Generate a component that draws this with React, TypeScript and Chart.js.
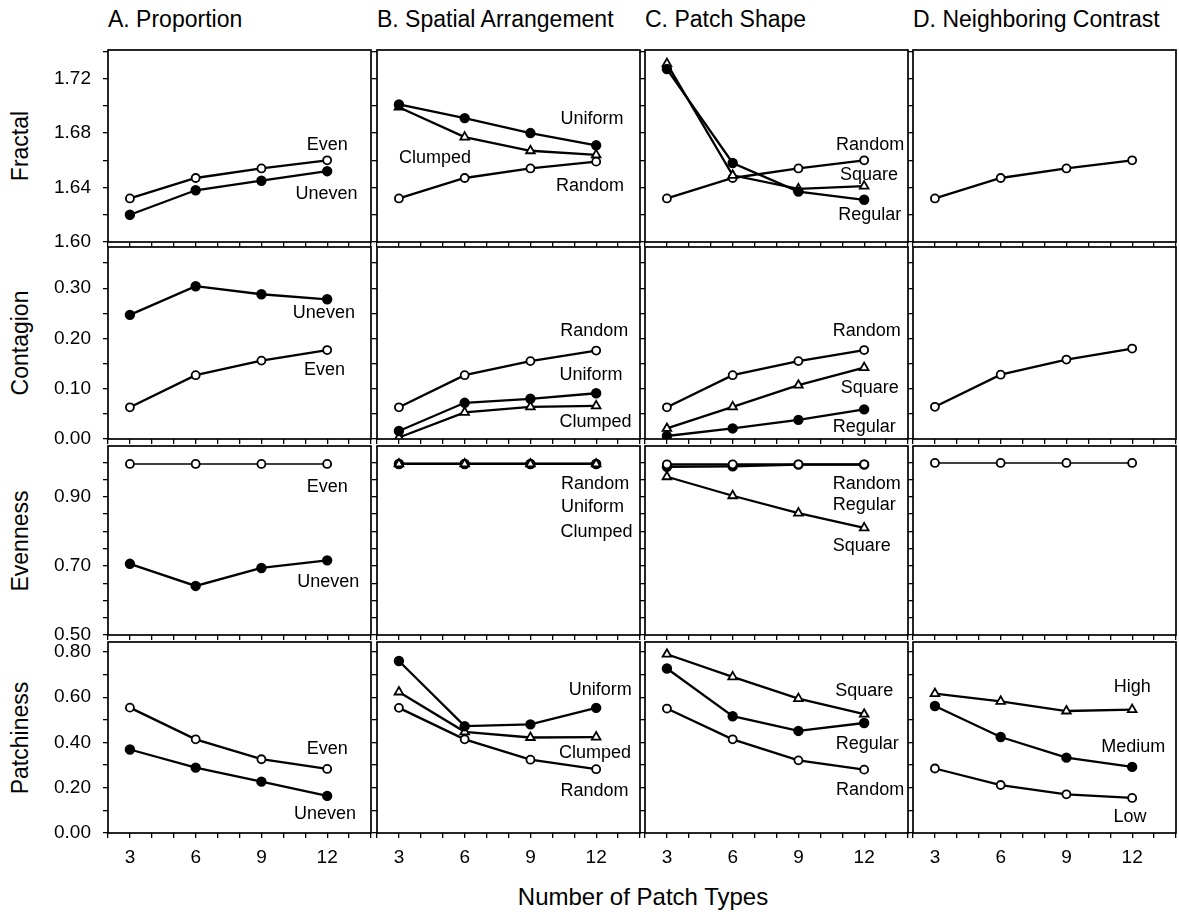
import React, { useEffect, useRef } from 'react';
import { Chart, registerables } from 'chart.js';

Chart.register(...registerables);

const FONT = '"Liberation Sans", Arial, Helvetica, sans-serif';

// ---------- categories / ticks ----------
const patchTypes = [3, 6, 9, 12];
const xTickValues = [2, 3, 4, 5, 6, 7, 8, 9, 10, 11, 12, 13, 14];
const xTickLabels = [3, 6, 9, 12];

const columnTitles = ['A. Proportion', 'B. Spatial Arrangement', 'C. Patch Shape', 'D. Neighboring Contrast'];
const rowTitles = ['Fractal', 'Contagion', 'Evenness', 'Patchiness'];
const xAxisTitle = 'Number of Patch Types';

const fractalTicks = [1.6, 1.62, 1.64, 1.66, 1.68, 1.7, 1.72, 1.74];
const fractalTickLabels = [1.6, 1.64, 1.68, 1.72];
const contagionTicks = [0, 0.05, 0.1, 0.15, 0.2, 0.25, 0.3, 0.35];
const contagionTickLabels = [0, 0.1, 0.2, 0.3];
const evennessTicks = [0.5, 0.55, 0.6, 0.65, 0.7, 0.75, 0.8, 0.85, 0.9, 0.95, 1.0];
const evennessTickLabels = [0.5, 0.7, 0.9];
const patchinessTicks = [0, 0.1, 0.2, 0.3, 0.4, 0.5, 0.6, 0.7, 0.8];
const patchinessTickLabels = [0, 0.2, 0.4, 0.6, 0.8];

// ---------- series values ----------
// Fractal
const fracPropEven = [1.632, 1.647, 1.654, 1.66];
const fracPropUneven = [1.62, 1.638, 1.645, 1.652];
const fracSpatUniform = [1.701, 1.691, 1.68, 1.671];
const fracSpatClumped = [1.699, 1.677, 1.667, 1.664];
const fracSpatRandom = [1.632, 1.647, 1.654, 1.659];
const fracShapeRegular = [1.727, 1.658, 1.637, 1.631];
const fracShapeSquare = [1.731, 1.649, 1.639, 1.641];
const fracShapeRandom = [1.632, 1.647, 1.654, 1.66];
const fracContrastRandom = [1.632, 1.647, 1.654, 1.66];
// Contagion
const contPropUneven = [0.247, 0.304, 0.288, 0.278];
const contPropEven = [0.063, 0.127, 0.156, 0.177];
const contSpatRandom = [0.063, 0.127, 0.155, 0.176];
const contSpatUniform = [0.016, 0.072, 0.08, 0.091];
const contSpatClumped = [0.003, 0.053, 0.064, 0.066];
const contShapeRandom = [0.063, 0.127, 0.155, 0.177];
const contShapeSquare = [0.021, 0.064, 0.107, 0.142];
const contShapeRegular = [0.006, 0.021, 0.038, 0.059];
const contContrastRandom = [0.064, 0.128, 0.158, 0.18];
// Evenness
const evenPropEven = [0.995, 0.995, 0.995, 0.995];
const evenPropUneven = [0.706, 0.642, 0.694, 0.716];
const evenSpatRandom = [0.995, 0.995, 0.995, 0.995];
const evenSpatUniform = [0.995, 0.995, 0.995, 0.995];
const evenSpatClumped = [0.995, 0.995, 0.995, 0.995];
const evenShapeRandom = [0.994, 0.994, 0.994, 0.994];
const evenShapeRegular = [0.987, 0.988, 0.993, 0.993];
const evenShapeSquare = [0.958, 0.903, 0.853, 0.81];
const evenContrastRandom = [0.998, 0.998, 0.998, 0.998];
// Patchiness
const patchPropEven = [0.554, 0.414, 0.326, 0.283];
const patchPropUneven = [0.369, 0.289, 0.227, 0.164];
const patchSpatUniform = [0.76, 0.472, 0.48, 0.553];
const patchSpatClumped = [0.623, 0.447, 0.422, 0.424];
const patchSpatRandom = [0.553, 0.414, 0.324, 0.282];
const patchShapeSquare = [0.79, 0.69, 0.594, 0.525];
const patchShapeRegular = [0.727, 0.516, 0.451, 0.486];
const patchShapeRandom = [0.55, 0.414, 0.321, 0.28];
const patchContrastHigh = [0.616, 0.582, 0.539, 0.545];
const patchContrastMedium = [0.561, 0.424, 0.333, 0.292];
const patchContrastLow = [0.285, 0.212, 0.171, 0.155];

// ---------- in-plot series labels (data coordinates) ----------
type Align = 'left' | 'center';
interface LabelDef { text: string; x: number; y: number; align: Align }

const lblFracProp: LabelDef[] = [
  { text: 'Even', x: 12, y: 1.671, align: 'center' },
  { text: 'Uneven', x: 11.97, y: 1.635, align: 'center' },
];
const lblFracSpat: LabelDef[] = [
  { text: 'Uniform', x: 10.37, y: 1.69, align: 'left' },
  { text: 'Clumped', x: 3.0, y: 1.662, align: 'left' },
  { text: 'Random', x: 10.17, y: 1.641, align: 'left' },
];
const lblFracShape: LabelDef[] = [
  { text: 'Random', x: 10.72, y: 1.671, align: 'left' },
  { text: 'Square', x: 10.9, y: 1.649, align: 'left' },
  { text: 'Regular', x: 10.82, y: 1.62, align: 'left' },
];
const lblContProp: LabelDef[] = [
  { text: 'Uneven', x: 11.85, y: 0.25, align: 'center' },
  { text: 'Even', x: 11.88, y: 0.138, align: 'center' },
];
const lblContSpat: LabelDef[] = [
  { text: 'Random', x: 10.36, y: 0.214, align: 'left' },
  { text: 'Uniform', x: 10.33, y: 0.128, align: 'left' },
  { text: 'Clumped', x: 10.33, y: 0.034, align: 'left' },
];
const lblContShape: LabelDef[] = [
  { text: 'Random', x: 10.57, y: 0.214, align: 'left' },
  { text: 'Square', x: 10.93, y: 0.1015, align: 'left' },
  { text: 'Regular', x: 10.57, y: 0.024, align: 'left' },
];
const lblEvenProp: LabelDef[] = [
  { text: 'Even', x: 12, y: 0.927, align: 'center' },
  { text: 'Uneven', x: 12.05, y: 0.653, align: 'center' },
];
const lblEvenSpat: LabelDef[] = [
  { text: 'Random', x: 10.4, y: 0.938, align: 'left' },
  { text: 'Uniform', x: 10.4, y: 0.869, align: 'left' },
  { text: 'Clumped', x: 10.37, y: 0.797, align: 'left' },
];
const lblEvenShape: LabelDef[] = [
  { text: 'Random', x: 10.57, y: 0.938, align: 'left' },
  { text: 'Regular', x: 10.57, y: 0.876, align: 'left' },
  { text: 'Square', x: 10.57, y: 0.758, align: 'left' },
];
const lblPatchProp: LabelDef[] = [
  { text: 'Even', x: 12, y: 0.373, align: 'center' },
  { text: 'Uneven', x: 11.9, y: 0.086, align: 'center' },
];
const lblPatchSpat: LabelDef[] = [
  { text: 'Uniform', x: 10.75, y: 0.631, align: 'left' },
  { text: 'Clumped', x: 10.3, y: 0.355, align: 'left' },
  { text: 'Random', x: 10.37, y: 0.186, align: 'left' },
];
const lblPatchShape: LabelDef[] = [
  { text: 'Square', x: 10.68, y: 0.628, align: 'left' },
  { text: 'Regular', x: 10.7, y: 0.395, align: 'left' },
  { text: 'Random', x: 10.72, y: 0.192, align: 'left' },
];
const lblPatchContrast: LabelDef[] = [
  { text: 'High', x: 12, y: 0.643, align: 'center' },
  { text: 'Medium', x: 12.05, y: 0.38, align: 'center' },
  { text: 'Low', x: 11.9, y: 0.071, align: 'center' },
];

// ---------- structure ----------
type Mark = 'open' | 'filled' | 'triangle';
interface SeriesDef { name: string; values: number[]; mark: Mark; thin?: boolean }
interface RowDef { min: number; max: number; ticks: number[]; labels: number[] }
interface PanelDef { row: number; col: number; series: SeriesDef[]; labels: LabelDef[] }

const rowScales: RowDef[] = [
  { min: 1.6, max: 1.741, ticks: fractalTicks, labels: fractalTickLabels },
  { min: 0, max: 0.382, ticks: contagionTicks, labels: contagionTickLabels },
  { min: 0.5, max: 1.047, ticks: evennessTicks, labels: evennessTickLabels },
  { min: 0, max: 0.844, ticks: patchinessTicks, labels: patchinessTickLabels },
];

const panels: PanelDef[] = [
  { row: 0, col: 0, labels: lblFracProp, series: [
    { name: 'Even', values: fracPropEven, mark: 'open' },
    { name: 'Uneven', values: fracPropUneven, mark: 'filled' }] },
  { row: 0, col: 1, labels: lblFracSpat, series: [
    { name: 'Uniform', values: fracSpatUniform, mark: 'filled' },
    { name: 'Clumped', values: fracSpatClumped, mark: 'triangle' },
    { name: 'Random', values: fracSpatRandom, mark: 'open' }] },
  { row: 0, col: 2, labels: lblFracShape, series: [
    { name: 'Regular', values: fracShapeRegular, mark: 'filled' },
    { name: 'Square', values: fracShapeSquare, mark: 'triangle' },
    { name: 'Random', values: fracShapeRandom, mark: 'open' }] },
  { row: 0, col: 3, labels: [], series: [
    { name: 'Random', values: fracContrastRandom, mark: 'open' }] },

  { row: 1, col: 0, labels: lblContProp, series: [
    { name: 'Uneven', values: contPropUneven, mark: 'filled' },
    { name: 'Even', values: contPropEven, mark: 'open' }] },
  { row: 1, col: 1, labels: lblContSpat, series: [
    { name: 'Random', values: contSpatRandom, mark: 'open' },
    { name: 'Uniform', values: contSpatUniform, mark: 'filled' },
    { name: 'Clumped', values: contSpatClumped, mark: 'triangle' }] },
  { row: 1, col: 2, labels: lblContShape, series: [
    { name: 'Random', values: contShapeRandom, mark: 'open' },
    { name: 'Square', values: contShapeSquare, mark: 'triangle' },
    { name: 'Regular', values: contShapeRegular, mark: 'filled' }] },
  { row: 1, col: 3, labels: [], series: [
    { name: 'Random', values: contContrastRandom, mark: 'open' }] },

  { row: 2, col: 0, labels: lblEvenProp, series: [
    { name: 'Even', values: evenPropEven, mark: 'open', thin: true },
    { name: 'Uneven', values: evenPropUneven, mark: 'filled' }] },
  { row: 2, col: 1, labels: lblEvenSpat, series: [
    { name: 'Clumped', values: evenSpatClumped, mark: 'triangle' },
    { name: 'Random', values: evenSpatRandom, mark: 'open' },
    { name: 'Uniform', values: evenSpatUniform, mark: 'filled' }] },
  { row: 2, col: 2, labels: lblEvenShape, series: [
    { name: 'Random', values: evenShapeRandom, mark: 'open' },
    { name: 'Regular', values: evenShapeRegular, mark: 'filled' },
    { name: 'Square', values: evenShapeSquare, mark: 'triangle' }] },
  { row: 2, col: 3, labels: [], series: [
    { name: 'Random', values: evenContrastRandom, mark: 'open', thin: true }] },

  { row: 3, col: 0, labels: lblPatchProp, series: [
    { name: 'Even', values: patchPropEven, mark: 'open' },
    { name: 'Uneven', values: patchPropUneven, mark: 'filled' }] },
  { row: 3, col: 1, labels: lblPatchSpat, series: [
    { name: 'Uniform', values: patchSpatUniform, mark: 'filled' },
    { name: 'Clumped', values: patchSpatClumped, mark: 'triangle' },
    { name: 'Random', values: patchSpatRandom, mark: 'open' }] },
  { row: 3, col: 2, labels: lblPatchShape, series: [
    { name: 'Square', values: patchShapeSquare, mark: 'triangle' },
    { name: 'Regular', values: patchShapeRegular, mark: 'filled' },
    { name: 'Random', values: patchShapeRandom, mark: 'open' }] },
  { row: 3, col: 3, labels: lblPatchContrast, series: [
    { name: 'High', values: patchContrastHigh, mark: 'triangle' },
    { name: 'Medium', values: patchContrastMedium, mark: 'filled' },
    { name: 'Low', values: patchContrastLow, mark: 'open' }] },
];

// ---------- layout (page pixels of each plot box) ----------
const colBoxes = [
  { left: 108, right: 371 },
  { left: 377, right: 640 },
  { left: 645, right: 908 },
  { left: 913, right: 1176 },
];
const rowBoxes = [
  { top: 50, bottom: 242 },
  { top: 247, bottom: 439 },
  { top: 446, bottom: 635 },
  { top: 642, bottom: 833 },
];
const PAD_TOP = 4;
const PAD_RIGHT = 3;

const decorPlugin = {
  id: 'panelDecor',
  afterDatasetsDraw(chart: any, _args: any, opts: any) {
    const { ctx, chartArea: a, scales } = chart;
    ctx.save();
    ctx.strokeStyle = '#000';
    ctx.lineWidth = 1.7;
    ctx.strokeRect(a.left, a.top, a.right - a.left, a.bottom - a.top);
    ctx.fillStyle = '#000';
    ctx.font = `18px ${FONT}`;
    ctx.textBaseline = 'middle';
    for (const l of (opts.labels || []) as LabelDef[]) {
      ctx.textAlign = l.align;
      ctx.fillText(l.text, scales.x.getPixelForValue(l.x), scales.y.getPixelForValue(l.y));
    }
    ctx.restore();
  },
};

function markStyle(m: Mark) {
  if (m === 'filled') return { pointStyle: 'circle', pointRadius: 4.3, pointBackgroundColor: '#000' };
  if (m === 'triangle') return { pointStyle: 'triangle', pointRadius: 5, pointBackgroundColor: '#fff' };
  return { pointStyle: 'circle', pointRadius: 4, pointBackgroundColor: '#fff' };
}

function zeroPad(s: any) {
  s.paddingTop = 0;
  s.paddingBottom = 0;
  s.paddingLeft = 0;
  s.paddingRight = 0;
}

function Panel({ p }: { p: PanelDef }) {
  const ref = useRef<HTMLCanvasElement | null>(null);
  const isLeft = p.col === 0;
  const isBottom = p.row === 3;
  const yW = isLeft ? 100 : 6;
  const xH = isBottom ? 50 : 6;
  const cb = colBoxes[p.col];
  const rb = rowBoxes[p.row];
  const width = cb.right - cb.left + yW + PAD_RIGHT;
  const height = rb.bottom - rb.top + PAD_TOP + xH;
  const left = cb.left - yW;
  const top = rb.top - PAD_TOP;

  useEffect(() => {
    if (!ref.current) return;
    const rs = rowScales[p.row];
    const chart = new Chart(ref.current, {
      type: 'line',
      data: {
        datasets: p.series.map((s) => ({
          label: s.name,
          data: patchTypes.map((x, i) => ({ x, y: s.values[i] })),
          borderColor: '#000',
          borderWidth: s.thin ? 1.5 : 2.3,
          tension: 0,
          pointBorderColor: '#000',
          pointBorderWidth: 1.8,
          ...markStyle(s.mark),
        })) as any,
      },
      options: {
        responsive: false,
        animation: false,
        devicePixelRatio: 1,
        layout: { padding: { left: 0, right: PAD_RIGHT, top: PAD_TOP, bottom: 0 }, autoPadding: false } as any,
        plugins: {
          legend: { display: false },
          tooltip: { enabled: false },
          panelDecor: { labels: p.labels },
        } as any,
        scales: {
          x: {
            type: 'linear',
            min: 2,
            max: 14,
            afterBuildTicks: (s: any) => { s.ticks = xTickValues.map((v) => ({ value: v })); },
            afterFit: (s: any) => { s.height = xH; zeroPad(s); },
            border: { display: false },
            grid: { drawOnChartArea: false, drawTicks: true, tickLength: 5, color: '#000', lineWidth: 1.3 },
            ticks: {
              autoSkip: false,
              maxRotation: 0,
              padding: 8,
              color: '#000',
              font: { family: FONT, size: 19 },
              callback: (v: any) => (isBottom && xTickLabels.includes(Number(v)) ? String(v) : ''),
            },
          },
          y: {
            type: 'linear',
            min: rs.min,
            max: rs.max,
            afterBuildTicks: (s: any) => { s.ticks = rs.ticks.map((v) => ({ value: v })); },
            afterFit: (s: any) => { s.width = yW; zeroPad(s); },
            border: { display: false },
            grid: { drawOnChartArea: false, drawTicks: true, tickLength: 5, color: '#000', lineWidth: 1.3 },
            ticks: {
              autoSkip: false,
              padding: 12,
              color: '#000',
              font: { family: FONT, size: 19 },
              callback: (v: any) => (isLeft && rs.labels.includes(Number(v)) ? Number(v).toFixed(2) : ''),
            },
          },
        } as any,
      },
      plugins: [decorPlugin as any],
    });
    return () => chart.destroy();
  }, []);

  return (
    <canvas
      ref={ref}
      width={width}
      height={height}
      style={{ position: 'absolute', left, top, width, height }}
    />
  );
}

const textBase: React.CSSProperties = {
  position: 'absolute',
  fontFamily: FONT,
  color: '#000',
  whiteSpace: 'nowrap',
  lineHeight: 1,
};

export default function App() {
  return (
    <div style={{ position: 'absolute', left: 0, top: 0, width: 1179, height: 912, background: '#fff', overflow: 'hidden' }}>
      {columnTitles.map((t, i) => (
        <div key={t} style={{ ...textBase, left: colBoxes[i].left, top: 8, fontSize: 23 }}>{t}</div>
      ))}
      {rowTitles.map((t, i) => (
        <div
          key={t}
          style={{
            ...textBase,
            left: 20,
            top: (rowBoxes[i].top + rowBoxes[i].bottom) / 2,
            fontSize: 23,
            transform: 'translate(-50%, -50%) rotate(-90deg)',
          }}
        >
          {t}
        </div>
      ))}
      <div style={{ ...textBase, left: 643, top: 897, fontSize: 24, transform: 'translate(-50%, -50%)' }}>{xAxisTitle}</div>
      {panels.map((p) => (
        <Panel key={`${p.row}-${p.col}`} p={p} />
      ))}
    </div>
  );
}
